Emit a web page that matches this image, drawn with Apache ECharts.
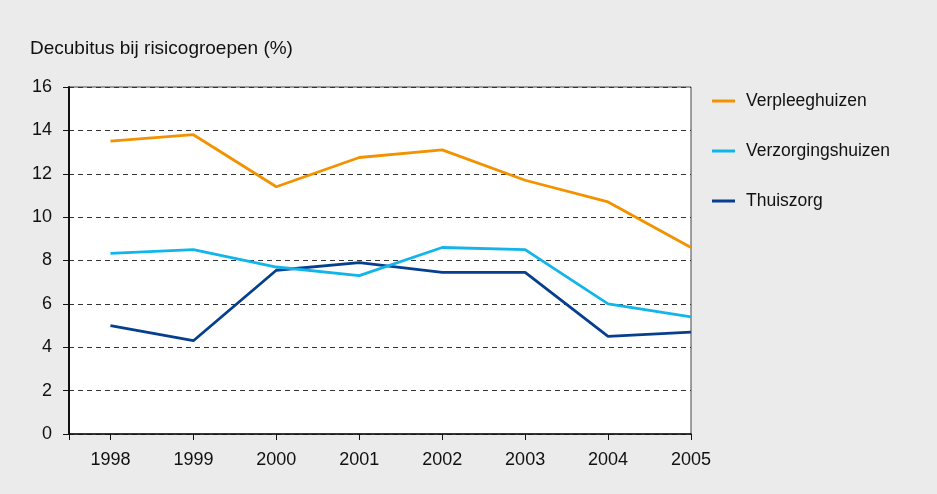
<!DOCTYPE html>
<html>
<head>
<meta charset="utf-8">
<script src="https://cdn.jsdelivr.net/npm/echarts@6/dist/echarts.min.js"></script>
<style>
  html, body { margin: 0; padding: 0; background: #ebebeb; }
  #main { width: 937px; height: 494px; }
</style>
</head>
<body>
<div id="main"></div>
<script>
const years = [1998, 1999, 2000, 2001, 2002, 2003, 2004, 2005];
const verpleeghuizen = [13.5, 13.8, 11.4, 12.75, 13.1, 11.7, 10.7, 8.6];
const verzorgingshuizen = [8.33, 8.5, 7.7, 7.3, 8.6, 8.5, 6.0, 5.4];
const thuiszorg = [5.0, 4.3, 7.55, 7.9, 7.45, 7.45, 4.5, 4.7];
const seriesNames = ["Verpleeghuizen", "Verzorgingshuizen", "Thuiszorg"];
const colors = ["#f39200", "#12b5ea", "#063f8e"];

const chart = echarts.init(document.getElementById("main"));
const font = "Liberation Sans, Arial, sans-serif";

function pairs(vals) {
  return years.map((y, i) => [y, vals[i]]);
}

const option = {
  backgroundColor: "#ebebeb",
  color: colors,
  animation: false,
  title: {
    text: "Decubitus bij risicogroepen (%)",
    left: 25,
    top: 34,
    textStyle: { fontFamily: font, fontSize: 19, fontWeight: "normal", color: "#111" }
  },
  legend: {
    orient: "vertical",
    left: 712,
    top: 92,
    padding: 0,
    itemGap: 32,
    itemWidth: 23,
    itemHeight: 3,
    icon: "rect",
    textStyle: { fontFamily: font, fontSize: 17.5, color: "#111", padding: [0, 0, 0, 6] },
    data: seriesNames
  },
  grid: {
    left: 69,
    right: 246,
    top: 87,
    bottom: 60,
    show: true,
    backgroundColor: "#fff",
    borderColor: "#444",
    borderWidth: 1
  },
  xAxis: {
    type: "value",
    min: 1997.5,
    max: 2005,
    splitLine: { show: false },
    axisLine: { lineStyle: { color: "#111", width: 1.5 } },
    axisTick: {
      show: true,
      length: 6,
      customValues: [1997.5].concat(years),
      lineStyle: { color: "#111" }
    },
    axisLabel: {
      customValues: years,
      formatter: v => String(v),
      margin: 17,
      fontFamily: font,
      fontSize: 18,
      color: "#111"
    }
  },
  yAxis: {
    type: "value",
    min: 0,
    max: 16,
    interval: 2,
    axisLine: { show: true, lineStyle: { color: "#111", width: 2 } },
    axisTick: { show: true, length: 6, lineStyle: { color: "#111" } },
    axisLabel: { margin: 17, fontFamily: font, fontSize: 18, color: "#111" },
    splitLine: { lineStyle: { color: "#333", type: [5, 4], width: 1 } }
  },
  series: [verpleeghuizen, verzorgingshuizen, thuiszorg].map((vals, i) => ({
    name: seriesNames[i],
    type: "line",
    data: pairs(vals),
    symbol: "none",
    lineStyle: { width: 2.8, color: colors[i] },
    z: 3 - i
  }))
};

chart.setOption(option);
</script>
</body>
</html>
